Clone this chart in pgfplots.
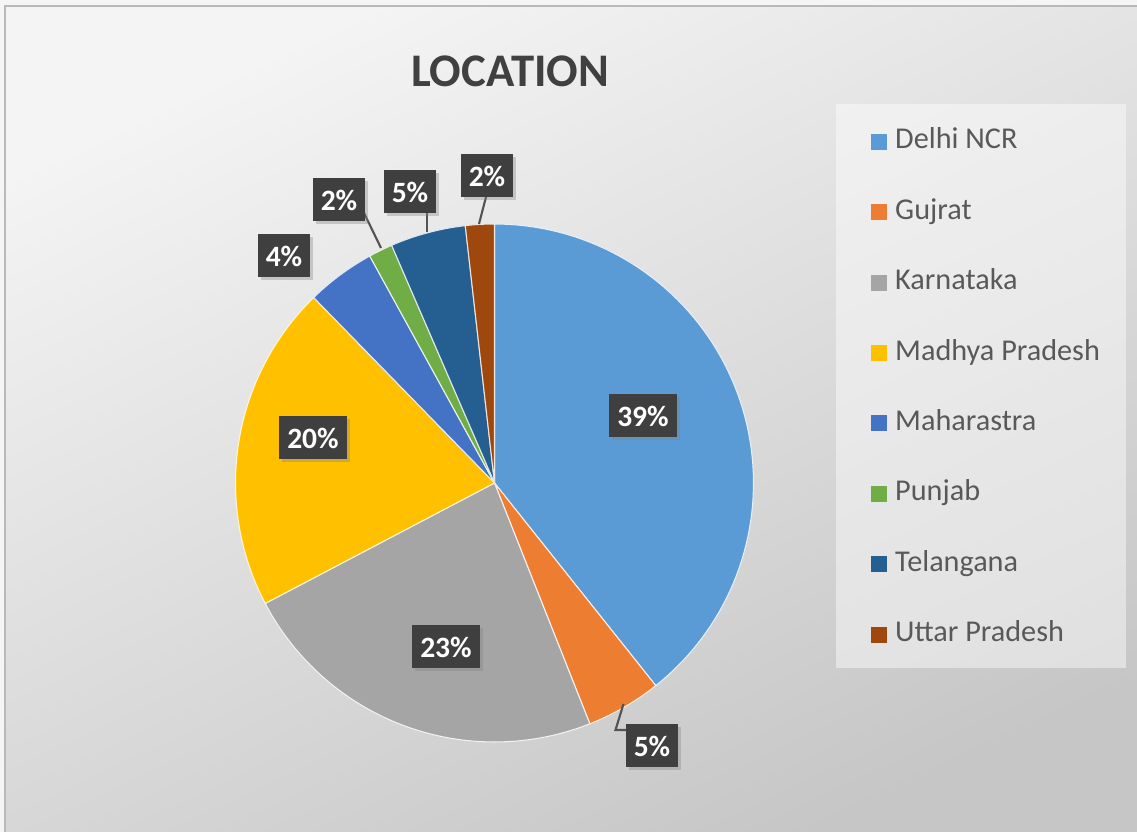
\documentclass[border=0pt]{standalone}
\usepackage{pgfplots}
\pgfplotsset{compat=1.18}
\usepackage{fontspec}
\setmainfont{Carlito}
\usetikzlibrary{shadows}
\definecolor{cDelhi}{HTML}{5B9BD5}
\definecolor{cGuj}{HTML}{ED7D31}
\definecolor{cKar}{HTML}{A5A5A5}
\definecolor{cMP}{HTML}{FFC000}
\definecolor{cMah}{HTML}{4472C4}
\definecolor{cPun}{HTML}{70AD47}
\definecolor{cTel}{HTML}{255E91}
\definecolor{cUP}{HTML}{9E480E}
\definecolor{txt}{HTML}{595959}
\definecolor{ttl}{HTML}{404040}
\definecolor{bgA}{HTML}{F4F4F4}
\definecolor{bgB}{HTML}{C6C6C6}
\definecolor{lblbox}{HTML}{3F3F3F}
% share of each location, percent (clockwise from 12 o'clock)
\def\cum{0}
\newcommand\slice[3]{% value, colour, name
  \pgfmathsetmacro\sa{90-3.6*\cum}%
  \pgfmathsetmacro\cum{\cum+#1}%
  \global\let\cum\cum
  \pgfmathsetmacro\sb{90-3.6*\cum}%
  \edef\temp{\noexpand\addplot[fill=#2, draw=white!85!#2, line width=0.3pt,
     domain=\sb:\sa, samples=80]
     ({cos(x)},{sin(x)}) -- (axis cs:0,0) -- cycle;}%
  \temp
  \addlegendentry{#3}%
}
\newcommand\lbl[3]{\node[fill=lblbox, text=white, font=\fontsize{8.4}{10}\selectfont\bfseries,
  inner xsep=0.08cm, inner ysep=0.11cm, minimum height=0.43cm,
  drop shadow={shadow xshift=0.03cm, shadow yshift=-0.03cm, opacity=0.35}] at (#1/100,-#2/100) {#3};}
\begin{document}
\begin{tikzpicture}[x=1cm,y=1cm]
\useasboundingbox (0,0) rectangle (11.37,-8.32);
\fill[white!96!black] (0,0) rectangle (11.37,-8.32);
\shade[top color=bgA, bottom color=bgB, shading angle=25] (0.05,-0.06) rectangle (11.50,-8.45);
\draw[gray!55, line width=0.8pt] (0.05,-0.06) rectangle (11.50,-8.45);
\fill[white, opacity=0.45] (8.36,-1.04) rectangle (11.26,-6.68);
\node[font=\fontsize{13.3}{16}\selectfont\bfseries, text=ttl] at (5.10,-0.71) {LOCATION};
\begin{axis}[
  at={(4.945cm,-4.83cm)}, anchor=center,
  scale only axis, width=5.18cm, height=5.18cm,
  xmin=-1, xmax=1, ymin=-1, ymax=1,
  hide axis, clip=false,
  legend cell align=left,
  legend image code/.code={\path[#1, draw=none] (0cm,-0.08cm) rectangle (0.16cm,0.08cm);},
  legend style={at={(axis description cs:1.2259,1.1873)}, anchor=north west,
    draw=none, fill=none, inner sep=0pt, row sep=0.423cm, column sep=0.08cm,
    font=\fontsize{8.6}{10}\selectfont, text=txt,
    nodes={inner sep=0pt, text height=6pt, text depth=2pt}},
]
\slice{39.3}{cDelhi}{Delhi NCR}
\slice{4.7}{cGuj}{Gujrat}
\slice{23.3}{cKar}{Karnataka}
\slice{20.4}{cMP}{Madhya Pradesh}
\slice{4.3}{cMah}{Maharastra}
\slice{1.5}{cPun}{Punjab}
\slice{4.7}{cTel}{Telangana}
\slice{1.8}{cUP}{Uttar Pradesh}
\end{axis}
% leader lines
\draw[gray!65!black, line width=0.6pt] (6.235,-7.04) -- (6.155,-7.30) -- (6.27,-7.30);
\draw[gray!65!black, line width=0.6pt] (3.64,-2.13) -- (3.81,-2.48);
\draw[gray!65!black, line width=0.6pt] (4.27,-2.13) -- (4.27,-2.32);
\draw[gray!65!black, line width=0.6pt] (4.86,-1.97) -- (4.79,-2.24);
% data labels
\lbl{643}{416}{39\%}
\lbl{652}{746}{5\%}
\lbl{446}{647}{23\%}
\lbl{313}{438}{20\%}
\lbl{284}{256}{4\%}
\lbl{339}{200}{2\%}
\lbl{410}{192}{5\%}
\lbl{487}{176}{2\%}
\end{tikzpicture}
\end{document}
